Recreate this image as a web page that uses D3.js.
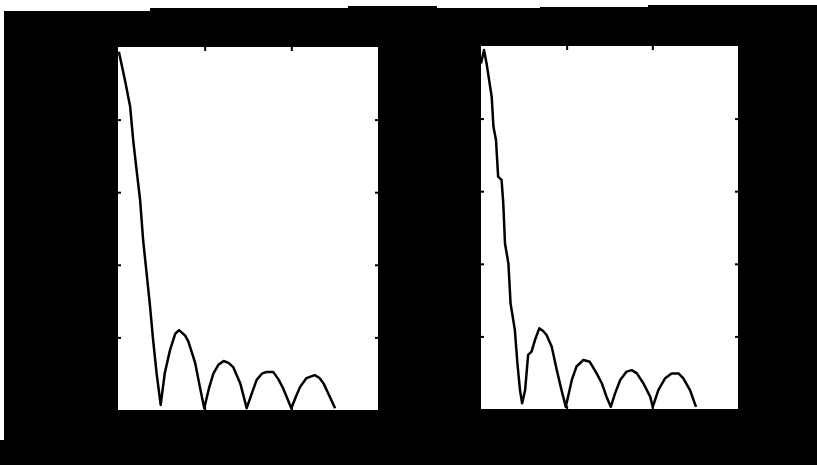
<!DOCTYPE html>
<html>
<head>
<meta charset="utf-8">
<script src="https://cdn.jsdelivr.net/npm/d3@7"></script>
<style>
  html, body { margin: 0; padding: 0; background: #fff; }
  svg { display: block; }
</style>
</head>
<body>
<svg id="chart" width="817" height="465"></svg>
<script>
// Magnitude response, left panel (sampled trace)
const leftX = [0.02, 0.16, 0.28, 0.35, 0.42, 0.51, 0.58, 0.66, 0.74, 0.81, 0.89, 0.985,
  1.08, 1.2, 1.32, 1.41, 1.55, 1.62, 1.7, 1.78, 1.89, 1.99,
  2.1, 2.2, 2.32, 2.44, 2.55, 2.66, 2.82, 2.97,
  3.1, 3.2, 3.32, 3.43, 3.58, 3.7, 3.81, 4.0,
  4.1, 4.2, 4.35, 4.54, 4.65, 4.74, 4.89, 5.01];
const leftY = [0.987, 0.909, 0.836, 0.744, 0.67, 0.579, 0.468, 0.377, 0.285, 0.193, 0.102, 0.014,
  0.102, 0.165, 0.21, 0.22, 0.205, 0.19, 0.16, 0.13, 0.063, 0.005,
  0.06, 0.10, 0.125, 0.135, 0.13, 0.118, 0.074, 0.005,
  0.05, 0.083, 0.1, 0.105, 0.105, 0.085, 0.06, 0.005,
  0.035, 0.063, 0.088, 0.096, 0.088, 0.074, 0.036, 0.005];

// Magnitude response, right panel (sampled trace)
const rightX = [0, 0.07, 0.13, 0.25, 0.29, 0.35, 0.40, 0.48, 0.52, 0.56, 0.64, 0.69, 0.79, 0.85, 0.91, 0.96,
  1.03, 1.10, 1.18, 1.26, 1.36, 1.45, 1.53, 1.65, 1.77, 1.88, 1.98,
  2.12, 2.23, 2.39, 2.54, 2.70, 2.82, 2.93, 3.03,
  3.13, 3.25, 3.40, 3.52, 3.64, 3.79, 3.95, 4.01,
  4.14, 4.30, 4.45, 4.61, 4.72, 4.88, 5.02];
const rightY = [0.952, 0.989, 0.952, 0.86, 0.778, 0.741, 0.64, 0.631, 0.567, 0.456, 0.401, 0.291, 0.218, 0.126, 0.052, 0.016,
  0.052, 0.149, 0.158, 0.19, 0.222, 0.215, 0.204, 0.172, 0.107, 0.052, 0.006,
  0.08, 0.117, 0.135, 0.13, 0.098, 0.071, 0.034, 0.006,
  0.043, 0.08, 0.103, 0.107, 0.098, 0.071, 0.034, 0.006,
  0.052, 0.085, 0.098, 0.098, 0.085, 0.052, 0.006];

// Axis ticks (no labels are printed)
const xDomain = [0, 6];
const yDomain = [0, 1];
const xTicks = [2, 4];
const yTicks = [0.2, 0.4, 0.6, 0.8];

const svg = d3.select("#chart");

// Dark figure background with a ragged top edge
svg.append("path")
  .attr("d", "M4,11 H150 V8 H348 V6 H437 V8 H540 V7 H648 V5 H817 V465 H0 V440 H4 Z")
  .attr("fill", "#000");

const panels = [
  { xs: leftX, ys: leftY, left: 118, right: 378, top: 47, bottom: 410 },
  { xs: rightX, ys: rightY, left: 481, right: 738, top: 46, bottom: 409 }
];

panels.forEach(p => {
  const x = d3.scaleLinear().domain(xDomain).range([p.left, p.right]);
  const y = d3.scaleLinear().domain(yDomain).range([p.bottom, p.top]);
  const g = svg.append("g");

  g.append("rect")
    .attr("x", p.left).attr("y", p.top)
    .attr("width", p.right - p.left).attr("height", p.bottom - p.top)
    .attr("fill", "#fff");

  const tickStyle = sel => {
    sel.select(".domain").remove();
    sel.selectAll("line").attr("stroke", "#000").attr("stroke-width", 2);
    sel.selectAll("text").remove();
  };

  g.append("g").attr("transform", `translate(${p.left},0)`)
    .call(d3.axisLeft(y).tickValues(yTicks).tickSize(-3).tickFormat(""))
    .call(tickStyle);
  g.append("g").attr("transform", `translate(${p.right},0)`)
    .call(d3.axisRight(y).tickValues(yTicks).tickSize(-3).tickFormat(""))
    .call(tickStyle);
  g.append("g").attr("transform", `translate(0,${p.top})`)
    .call(d3.axisTop(x).tickValues(xTicks).tickSize(-4).tickFormat(""))
    .call(tickStyle);
  g.append("g").attr("transform", `translate(0,${p.bottom})`)
    .call(d3.axisBottom(x).tickValues(xTicks).tickSize(-3).tickFormat(""))
    .call(tickStyle);

  const pts = p.xs.map((v, i) => [v, p.ys[i]]);
  g.append("path")
    .datum(pts)
    .attr("fill", "none")
    .attr("stroke", "#000")
    .attr("stroke-width", 2.5)
    .attr("stroke-linejoin", "round")
    .attr("d", d3.line().x(d => x(d[0])).y(d => y(d[1])));
});
</script>
</body>
</html>
